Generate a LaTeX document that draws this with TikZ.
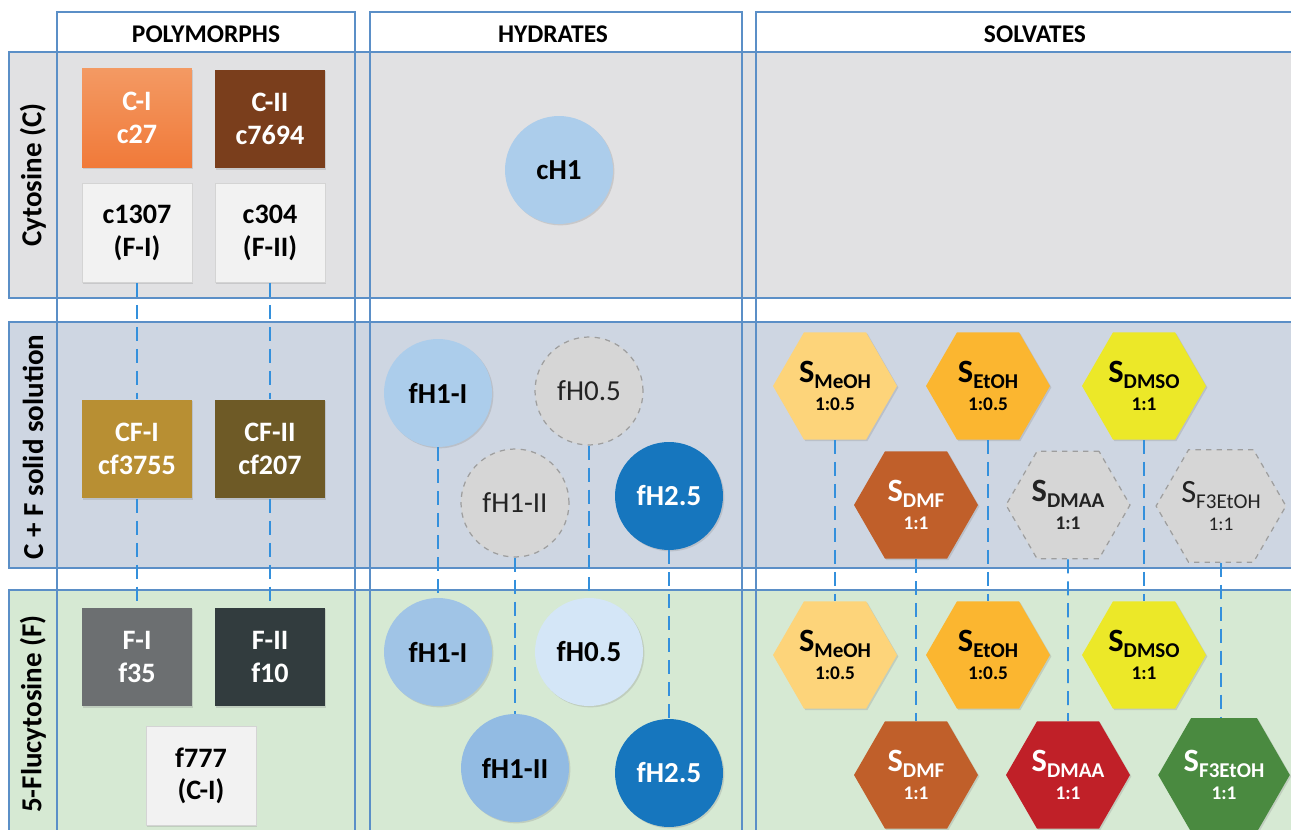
\documentclass[tikz,border=0pt]{standalone}
\usepackage{fontspec}
\setmainfont{Carlito}
\usetikzlibrary{shapes.geometric,shadows}

\definecolor{frameblue}{RGB}{91,143,199}
\definecolor{connblue}{RGB}{52,144,220}
\definecolor{rowC}{RGB}{225,225,227}
\definecolor{rowCF}{RGB}{206,214,226}
\definecolor{rowF}{RGB}{214,233,211}
\definecolor{cIcol}{RGB}{240,128,60}
\definecolor{cIItop}{RGB}{122,62,28}
\definecolor{paleBox}{RGB}{242,242,242}
\definecolor{paleEdge}{RGB}{212,212,212}
\definecolor{cfIcol}{RGB}{184,143,51}
\definecolor{cfIIcol}{RGB}{110,90,38}
\definecolor{fIcol}{RGB}{108,111,113}
\definecolor{fIIcol}{RGB}{50,60,62}
\definecolor{hLight}{RGB}{172,205,235}
\definecolor{hMid}{RGB}{160,196,230}
\definecolor{hMid2}{RGB}{146,187,227}
\definecolor{hPale}{RGB}{212,230,247}
\definecolor{hDark}{RGB}{22,118,190}
\definecolor{ghostFill}{RGB}{214,214,214}
\definecolor{ghostEdge}{RGB}{158,158,158}
\definecolor{ghostText}{RGB}{35,35,35}
\definecolor{meohCol}{RGB}{253,212,122}
\definecolor{etohCol}{RGB}{251,182,48}
\definecolor{dmsoCol}{RGB}{236,232,40}
\definecolor{dmfCol}{RGB}{192,95,42}
\definecolor{dmaaCol}{RGB}{192,32,40}
\definecolor{ftriCol}{RGB}{74,138,64}

\newcommand{\solvtxt}[2]{{\fontsize{18.5}{15}\selectfont S}\raisebox{-3.5pt}{\fontsize{12}{15}\selectfont #1}\\[2pt]#2}

\begin{document}
\begin{tikzpicture}[x=0.02cm,y=-0.02cm,
  frameline/.style={draw=frameblue,line width=0.85pt},
  hdr/.style={font=\fontsize{14.5}{16}\selectfont\bfseries,text=black},
  rowlbl/.style={font=\fontsize{16.5}{18}\selectfont\bfseries,text=black,rotate=90},
  sq/.style={rectangle,minimum width=2.2cm,minimum height=1.98cm,align=center,
    font=\fontsize{16}{18.5}\selectfont\bfseries,inner sep=0pt,
    drop shadow={opacity=0.25,shadow xshift=0.8pt,shadow yshift=-0.8pt}},
  darksq/.style={sq,text=white},
  palesq/.style={sq,fill=paleBox,draw=paleEdge,line width=0.5pt,text=black},
  hyd/.style={circle,minimum size=2.16cm,inner sep=0pt,
    font=\fontsize{16.5}{18}\selectfont\bfseries,text=black,
    drop shadow={opacity=0.25,shadow xshift=0.8pt,shadow yshift=-0.8pt}},
  ghostcirc/.style={circle,minimum size=2.16cm,inner sep=0pt,
    font=\fontsize{16.5}{18}\selectfont,text=ghostText,fill=ghostFill,
    draw=ghostEdge,dashed,line width=0.7pt},
  hex/.style={regular polygon,regular polygon sides=6,minimum size=2.48cm,
    inner sep=0pt,align=center,font=\fontsize{11}{14}\selectfont\bfseries,text=black,
    drop shadow={opacity=0.25,shadow xshift=0.8pt,shadow yshift=-0.8pt}},
  ghosthex/.style={regular polygon,regular polygon sides=6,minimum size=2.48cm,
    inner sep=0pt,align=center,font=\fontsize{11}{14}\selectfont,
    fill=ghostFill,draw=ghostEdge,dashed,line width=0.7pt,text=ghostText},
  conn/.style={draw=connblue,line width=1.1pt,dash pattern=on 8pt off 4.5pt}
]
\useasboundingbox (0,0) rectangle (1291,830);
\clip (0,0) rectangle (1291,830);
\fill[white] (0,0) rectangle (1291,830);

% row bands
\draw[frameline,fill=rowC]  (9,52)  rectangle (1310,298);
\draw[frameline,fill=rowCF] (9,322) rectangle (1310,568);
\draw[frameline,fill=rowF]  (9,590) rectangle (1310,850);

% column frames
\draw[frameline] (57,850) -- (57,12) -- (355,12) -- (355,850);
\draw[frameline] (370,850) -- (370,12) -- (742,12) -- (742,850);
\draw[frameline] (756,850) -- (756,12) -- (1310,12);

% headers
\node[hdr] (hpoly) at (206,34) {POLYMORPHS};
\node[hdr] (hhyd)  at (553,34) {HYDRATES};
\node[hdr] (hsolv) at (1035,34) {SOLVATES};

% row labels
\node[rowlbl] (lblC)  at (33,175) {Cytosine (C)};
\node[rowlbl] (lblCF) at (33,447) {C + F solid solution};
\node[rowlbl] (lblF)  at (33,714) {5-Flucytosine (F)};

% polymorphs
\node[darksq,top color=cIcol!80!white,bottom color=cIcol!95!red] (cI) at (137,118) {C-I\\c27};
\node[darksq,fill=cIItop] (cII) at (270,119) {C-II\\c7694};
\node[palesq] (c1307) at (137,233) {c1307\\(F-I)};
\node[palesq] (c304)  at (270,233) {c304\\(F-II)};
\node[darksq,fill=cfIcol]  (cfI)  at (137,449) {CF-I\\cf3755};
\node[darksq,fill=cfIIcol] (cfII) at (270,449) {CF-II\\cf207};
\node[darksq,fill=fIcol]   (fI)   at (137,657) {F-I\\f35};
\node[darksq,fill=fIIcol]  (fII)  at (270,657) {F-II\\f10};
\node[palesq] (f777) at (201,776) {f777\\(C-I)};

% hydrates
\node[hyd,fill=hLight] (cH1) at (559,170) {cH1};
\node[hyd,fill=hLight] (cfH1I) at (438,393) {fH1-I};
\node[ghostcirc] (cfH05) at (589,391) {fH0.5};
\node[ghostcirc] (cfH1II) at (515,503) {fH1-II};
\node[hyd,fill=hDark,text=white] (cfH25) at (669,496) {fH2.5};
\node[hyd,fill=hMid] (fH1I) at (438,652) {fH1-I};
\node[hyd,fill=hPale] (fH05) at (589,652) {fH0.5};
\node[hyd,fill=hMid2] (fH1II) at (515,768) {fH1-II};
\node[hyd,fill=hDark,text=white] (fH25) at (669,773) {fH2.5};

% solvates, C+F row
\node[hex,fill=meohCol] (cfMeOH) at (835,386) {\solvtxt{MeOH}{1:0.5}};
\node[hex,fill=etohCol] (cfEtOH) at (988,386) {\solvtxt{EtOH}{1:0.5}};
\node[hex,fill=dmsoCol] (cfDMSO) at (1144,386) {\solvtxt{DMSO}{1:1}};
\node[hex,fill=dmfCol,text=white] (cfDMF) at (916,505) {\solvtxt{DMF}{1:1}};
\node[ghosthex,font=\fontsize{11}{14}\selectfont\bfseries] (cfDMAA) at (1068,505) {\solvtxt{DMAA}{1:1}};
\node[ghosthex] (cfF3) at (1221,506) {\solvtxt{F3EtOH}{1:1}};

% solvates, F row
\node[hex,fill=meohCol] (fMeOH) at (835,655) {\solvtxt{MeOH}{1:0.5}};
\node[hex,fill=etohCol] (fEtOH) at (988,655) {\solvtxt{EtOH}{1:0.5}};
\node[hex,fill=dmsoCol] (fDMSO) at (1144,655) {\solvtxt{DMSO}{1:1}};
\node[hex,fill=dmfCol,text=white] (fDMF) at (916,775) {\solvtxt{DMF}{1:1}};
\node[hex,fill=dmaaCol,text=white] (fDMAA) at (1068,775) {\solvtxt{DMAA}{1:1}};
\node[hex,fill=ftriCol,text=white] (fF3) at (1224,775) {\solvtxt{F3EtOH}{1:1}};

% connectors
\draw[conn] (c1307.south) -- (cfI.north);
\draw[conn] (cfI.south) -- (fI.north);
\draw[conn] (c304.south) -- (cfII.north);
\draw[conn] (cfII.south) -- (fII.north);

\draw[conn] (cfH1I.south) -- (fH1I.north);
\draw[conn] (cfH05.south) -- (fH05.north);
\draw[conn] (cfH1II.south) -- (fH1II.north);
\draw[conn] (cfH25.south) -- (fH25.north);

\draw[conn] (cfMeOH.south) -- (fMeOH.north);
\draw[conn] (cfEtOH.south) -- (fEtOH.north);
\draw[conn] (cfDMSO.south) -- (fDMSO.north);
\draw[conn] (cfDMF.south) -- (fDMF.north);
\draw[conn] (cfDMAA.south) -- (fDMAA.north);
\draw[conn] (cfF3.south) -- (cfF3.south |- fF3.north);
\end{tikzpicture}
\end{document}
